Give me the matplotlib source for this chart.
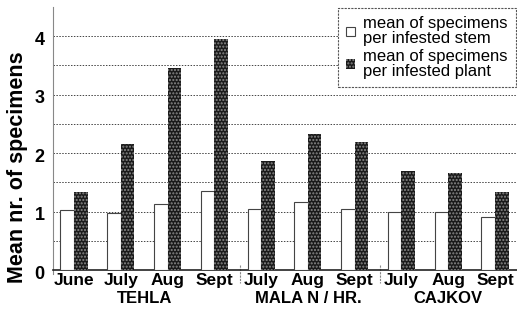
import matplotlib.pyplot as plt
import matplotlib.transforms as mtransforms
import numpy as np

# months within each site, and site names
months = ['June', 'July', 'Aug', 'Sept', 'July', 'Aug', 'Sept', 'July', 'Aug', 'Sept']
sites = ['TEHLA', 'MALA N / HR.', 'CAJKOV']
site_sizes = [4, 3, 3]

# mean values
per_stem = [1.02, 0.98, 1.13, 1.35, 1.05, 1.17, 1.05, 0.99, 1.00, 0.90]
per_plant = [1.33, 2.15, 3.45, 3.95, 1.87, 2.33, 2.18, 1.69, 1.65, 1.33]

plt.rcParams['font.family'] = ['Liberation Sans', 'DejaVu Sans']
plt.rcParams['hatch.linewidth'] = 1.0
fig = plt.figure(figsize=(5.17, 3.12), dpi=100)
ax = fig.add_axes([0.1025, 0.1346, 0.8975, 0.8437])

x = np.arange(len(months))
w = 0.29
ax.bar(x - w / 2, per_stem, w, color='white', edgecolor='#444444', linewidth=0.8,
       label='mean of specimens\nper infested stem', zorder=3)
ax.bar(x + w / 2, per_plant, w, color='#1a1a1a', edgecolor='#8a8a8a', hatch='.....',
       linewidth=0, label='mean of specimens\nper infested plant', zorder=3)

ax.set_ylim(0, 4.5)
ax.set_xlim(-0.45, len(months) - 0.53)
ax.set_yticks([0, 1, 2, 3, 4])
ax.set_yticks(np.arange(0.5, 4.5, 1.0), minor=True)
ax.tick_params(axis='y', which='both', length=0, labelsize=13, pad=6)
shift = mtransforms.ScaledTranslation(0, -2 / 100, fig.dpi_scale_trans)
for lab in ax.get_yticklabels():
    lab.set_fontweight('bold')
    lab.set_transform(lab.get_transform() + shift)
ax.grid(True, axis='y', which='both', linestyle=(0, (1.5, 1.5)), color='#444444', linewidth=0.7, zorder=0)

ax.set_xticks(x)
ax.set_xticklabels(months, fontsize=12.5, fontweight='bold')
ax.tick_params(axis='x', length=0, pad=2)

# site names under the months
start = 0
for name, n in zip(sites, site_sizes):
    ax.text(start + (n - 1) / 2, -0.11, name, transform=ax.get_xaxis_transform(),
            ha='center', va='center', fontsize=12, fontweight='bold')
    if start > 0:
        ax.plot([start - 0.45, start - 0.45], [0.02, -0.05], transform=ax.get_xaxis_transform(),
                color='#888888', linestyle=(0, (2, 1)), linewidth=0.8, clip_on=False)
    start += n

ax.set_ylabel('Mean nr. of specimens', fontsize=15.5, fontweight='bold')
ax.yaxis.set_label_coords(-0.054, 0.39)

for side in ['top', 'right']:
    ax.spines[side].set_visible(False)
ax.spines['left'].set_linestyle((0, (2, 1)))
ax.spines['left'].set_color('#888888')
ax.spines['left'].set_bounds(-0.06, 4.5)
ax.spines['bottom'].set_color('#222222')
ax.spines['bottom'].set_linewidth(1.2)

leg = ax.legend(loc='upper right', fontsize=12, frameon=True, fancybox=False,
                handlelength=0.5, handleheight=0.5, handletextpad=0.5,
                labelspacing=0.15, borderpad=0.5, borderaxespad=0.0,
                bbox_to_anchor=(0.998, 0.974), bbox_transform=fig.transFigure)
for t in leg.get_texts():
    t.set_linespacing(1.0)
leg.get_frame().set_linestyle((0, (2, 1)))
leg.get_frame().set_edgecolor('#555555')
leg.get_frame().set_linewidth(0.8)
leg.get_frame().set_alpha(1.0)

fig.savefig('out.png', dpi=100)
